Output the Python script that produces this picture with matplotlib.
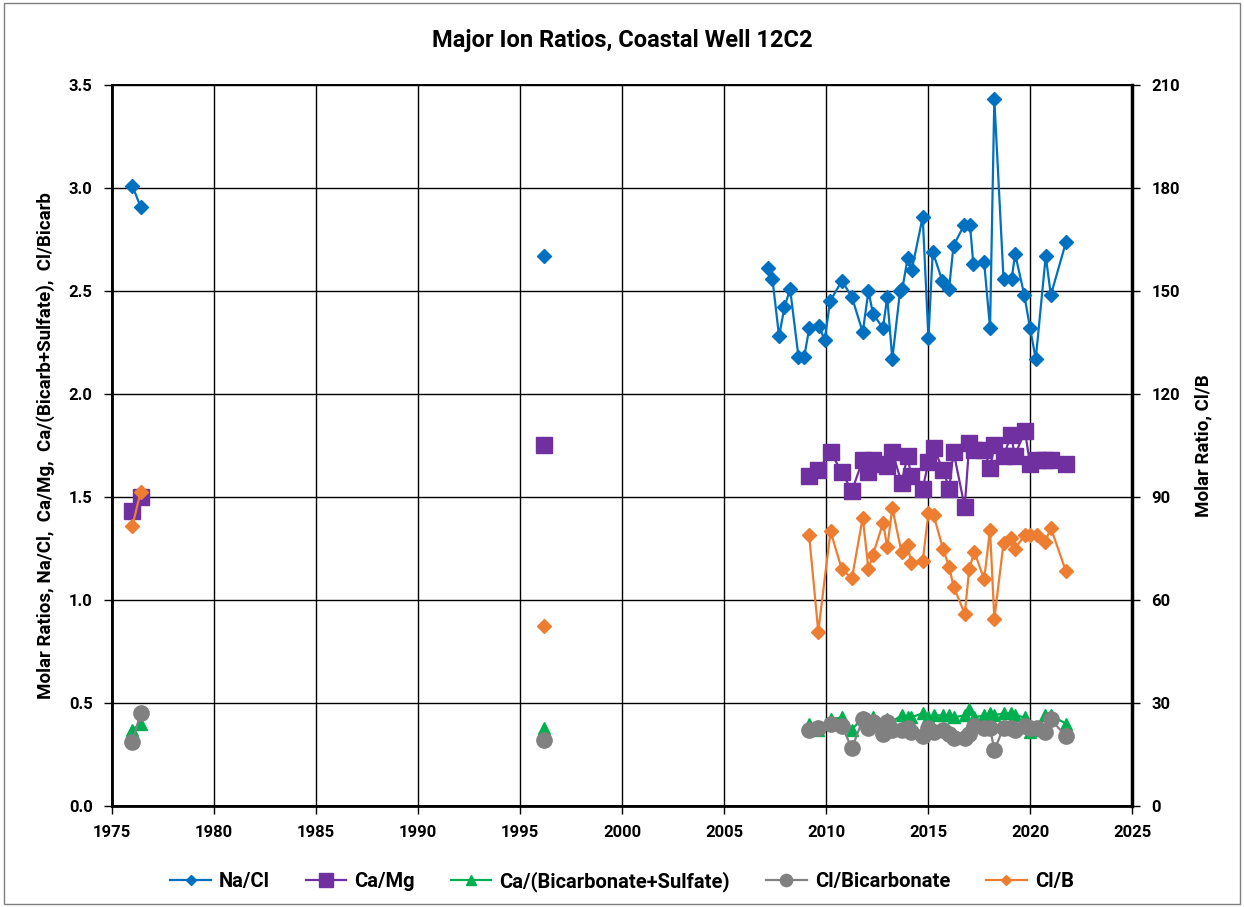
import matplotlib
matplotlib.use("Agg")
import matplotlib.pyplot as plt
import numpy as np
from matplotlib.patches import Rectangle

nan = np.nan

# Na/Cl (molar) -- gaps (nan) between sampling periods
nacl_dates = [1976.0, 1976.4, nan, 1996.2, nan,
              2007.17, 2007.37, 2007.7, 2007.96, 2008.24, 2008.65, 2008.93, 2009.18,
              2009.67, 2009.93, 2010.2, 2010.78, 2011.27, 2011.8, 2012.08, 2012.3,
              2012.79, 2013.0, 2013.25, 2013.63, 2013.74, 2014.0, 2014.2, 2014.74,
              2015.02, 2015.23, 2015.7, 2016.03, 2016.25, 2016.77, 2017.06, 2017.22,
              2017.75, 2018.04, 2018.25, 2018.7, 2019.1, 2019.27, 2019.72, 2020.0,
              2020.28, 2020.77, 2021.02, 2021.77]
nacl = [3.01, 2.91, nan, 2.67, nan,
        2.61, 2.56, 2.28, 2.42, 2.51, 2.18, 2.18, 2.32,
        2.33, 2.26, 2.45, 2.55, 2.47, 2.30, 2.50, 2.39,
        2.32, 2.47, 2.17, 2.50, 2.51, 2.66, 2.60, 2.86,
        2.27, 2.69, 2.55, 2.51, 2.72, 2.82, 2.82, 2.63,
        2.64, 2.32, 3.43, 2.56, 2.56, 2.68, 2.48, 2.32,
        2.17, 2.67, 2.48, 2.74]

# dates shared by the other four series
dates = [1976.0, 1976.4, nan, 1996.2, nan,
         2009.17, 2009.62, 2010.22, 2010.77, 2011.27, 2011.8, 2012.08, 2012.3,
         2012.8, 2013.0, 2013.25, 2013.7, 2014.0, 2014.17, 2014.74, 2015.02,
         2015.27, 2015.74, 2016.04, 2016.25, 2016.8, 2017.02, 2017.27, 2017.75,
         2018.04, 2018.25, 2018.7, 2019.08, 2019.25, 2019.75, 2020.0, 2020.33,
         2020.75, 2021.02, 2021.75]

camg = [1.43, 1.50, nan, 1.75, nan,
        1.60, 1.63, 1.72, 1.62, 1.53, 1.68, 1.62, 1.68,
        1.66, 1.65, 1.72, 1.57, 1.70, 1.60, 1.54, 1.67,
        1.74, 1.63, 1.54, 1.72, 1.45, 1.76, 1.73, 1.73,
        1.64, 1.75, 1.70, 1.80, 1.70, 1.82, 1.66, 1.68,
        1.68, 1.68, 1.66]

ca_bicsul = [0.37, 0.40, nan, 0.38, nan,
             0.40, 0.37, 0.42, 0.43, 0.37, 0.43, 0.42, 0.43,
             0.41, 0.42, 0.41, 0.44, 0.43, 0.43, 0.45, 0.43,
             0.44, 0.44, 0.44, 0.43, 0.44, 0.47, 0.43, 0.44,
             0.45, 0.44, 0.45, 0.45, 0.44, 0.43, 0.36, 0.37,
             0.44, 0.44, 0.40]

cl_bic = [0.31, 0.45, nan, 0.32, nan,
          0.37, 0.38, 0.40, 0.39, 0.28, 0.42, 0.38, 0.41,
          0.35, 0.41, 0.37, 0.37, 0.38, 0.36, 0.34, 0.38,
          0.36, 0.37, 0.35, 0.33, 0.33, 0.35, 0.39, 0.38,
          0.38, 0.27, 0.38, 0.38, 0.37, 0.39, 0.38, 0.38,
          0.36, 0.42, 0.34]

clb = [81.5, 91.4, nan, 52.4, nan,
       79.0, 50.8, 80.0, 69.0, 66.3, 84.0, 69.0, 73.2,
       82.5, 75.3, 86.7, 74.0, 76.1, 70.8, 71.4, 85.2,
       84.8, 74.8, 69.6, 63.9, 56.0, 69.0, 74.1, 66.0,
       80.4, 54.5, 76.5, 78.0, 74.8, 79.0, 79.0, 78.8,
       77.0, 81.0, 68.5]

plt.rcParams['font.family'] = ['Roboto', 'DejaVu Sans']
plt.rcParams['font.weight'] = 'bold'

fig = plt.figure(figsize=(12.44, 9.07), dpi=100)
ax = fig.add_axes([0.090, 0.1114, 0.820, 0.7949])
ax2 = ax.twinx()

lw = 1.6
ax.plot(nacl_dates, nacl, color='#0070C0', marker='D', ms=7, lw=lw, label='Na/Cl', zorder=3)
ax.plot(dates, camg, color='#7030A0', marker='s', ms=12, lw=lw, label='Ca/Mg', zorder=3)
ax.plot(dates, ca_bicsul, color='#00B050', marker='^', ms=9, lw=lw,
        label='Ca/(Bicarbonate+Sulfate)', zorder=3)
ax.plot(dates, cl_bic, color='#808080', marker='o', ms=11, lw=lw,
        label='Cl/Bicarbonate', zorder=4)
ax2.plot(dates, clb, color='#ED7D31', marker='D', ms=7, lw=lw, label='Cl/B', zorder=3)

ax.set_xlim(1975, 2025)
ax.set_ylim(0, 3.5)
ax2.set_ylim(0, 210)
ax.set_xticks(np.arange(1975, 2026, 5))
ax.set_yticks(np.arange(0, 3.51, 0.5))
ax.set_yticklabels([f'{v:.1f}' for v in np.arange(0, 3.51, 0.5)])
ax2.set_yticks(np.arange(0, 211, 30))

ax.grid(True, color='black', lw=1.0)
ax.set_axisbelow(True)
for a in (ax, ax2):
    for s in a.spines.values():
        s.set_linewidth(1.2)
ax2.spines['right'].set_linewidth(2.5)
ax.spines['left'].set_linewidth(2.0)
ax.spines['bottom'].set_linewidth(2.0)
ax.tick_params(axis='both', labelsize=12, length=6, width=1, pad=8)
ax2.tick_params(axis='y', labelsize=12, length=6, width=1, pad=8)

ax.set_ylabel('Molar Ratios, Na/Cl,  Ca/Mg,  Ca/(Bicarb+Sulfate),  Cl/Bicarb',
              fontsize=13.5, fontweight='bold', labelpad=10)
ax2.set_ylabel('Molar Ratio, Cl/B', fontsize=13.5, fontweight='bold', labelpad=10)
fig.text(0.5, 0.955, 'Major Ion Ratios, Coastal Well 12C2', ha='center', va='center',
         fontsize=17, fontweight='bold')

h1, l1 = ax.get_legend_handles_labels()
h2, l2 = ax2.get_legend_handles_labels()
fig.legend(h1 + h2, l1 + l2, loc='center', bbox_to_anchor=(0.5, 0.028), ncol=5,
           frameon=False, fontsize=14.5, handlelength=2.0, columnspacing=1.8,
           handletextpad=0.4, markerscale=0.8)

fig.add_artist(Rectangle((0.003, 0.003), 0.994, 0.994, transform=fig.transFigure,
                         fill=False, edgecolor='#7f7f7f', lw=1))

fig.savefig('out.png', dpi=100)
